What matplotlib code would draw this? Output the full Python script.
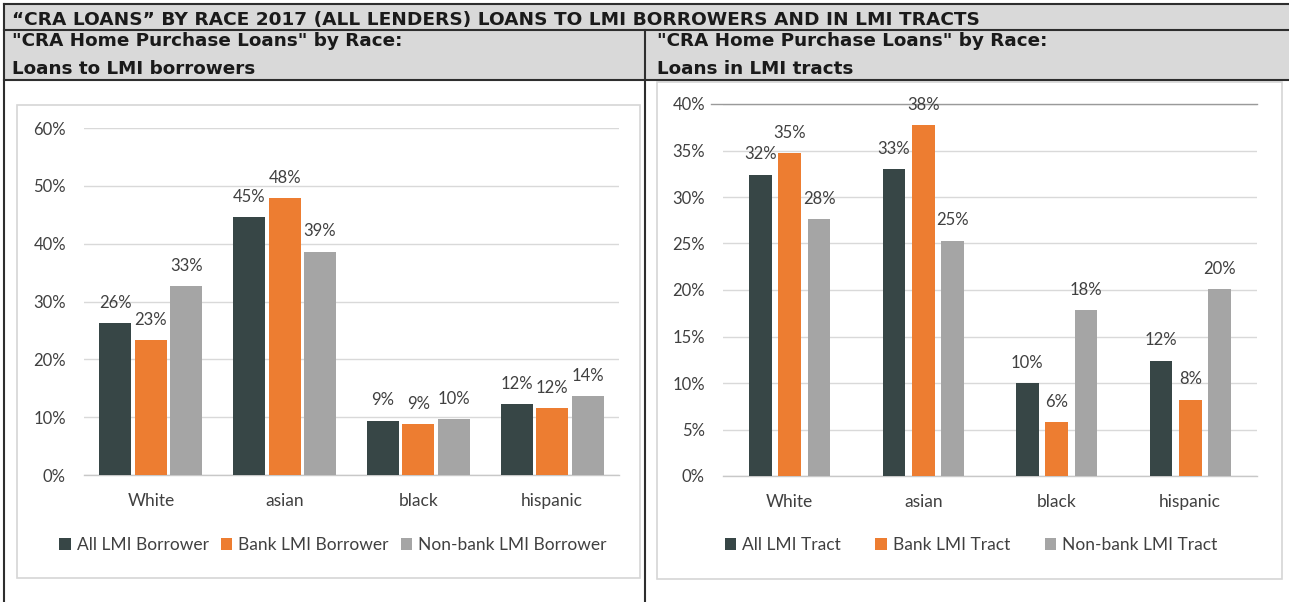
import matplotlib
matplotlib.use("Agg")
import matplotlib.pyplot as plt
from matplotlib.patches import Rectangle
from matplotlib.lines import Line2D
from matplotlib.ticker import FuncFormatter
import numpy as np

# ---------------- data ----------------
categories = ["White", "asian", "black", "hispanic"]

borrower_series = ["All LMI Borrower", "Bank LMI Borrower", "Non-bank LMI Borrower"]
borrower_all = [26.3, 44.6, 9.4, 12.3]
borrower_bank = [23.3, 47.9, 8.8, 11.6]
borrower_nonbank = [32.6, 38.6, 9.6, 13.6]

tract_series = ["All LMI Tract", "Bank LMI Tract", "Non-bank LMI Tract"]
tract_all = [32.4, 33.0, 10.0, 12.4]
tract_bank = [34.7, 37.7, 5.8, 8.2]
tract_nonbank = [27.6, 25.3, 17.8, 20.1]

left_ticks = [0, 10, 20, 30, 40, 50, 60]
right_ticks = [0, 5, 10, 15, 20, 25, 30, 35, 40]

main_title = "\u201cCRA LOANS\u201d BY RACE 2017 (ALL LENDERS) LOANS TO LMI BORROWERS AND IN LMI TRACTS"
left_title = ['"CRA Home Purchase Loans" by Race:', "Loans to LMI borrowers"]
right_title = ['"CRA Home Purchase Loans" by Race:', "Loans in LMI tracts"]

# ---------------- style ----------------
W, H = 1289, 602
DARK = "#374646"
ORANGE = "#ED7D31"
GRAY = "#A5A5A5"
TXT = "#404040"
GRID = "#D9D9D9"
BAND = "#D9D9D9"
BORDER = "#2E2E2E"
FONT = "Lato"

fig = plt.figure(figsize=(W / 100, H / 100), dpi=100)
fig.patch.set_facecolor("white")

# background axes in pixel coordinates
bg = fig.add_axes([0, 0, 1, 1], zorder=0)
bg.set_xlim(0, W)
bg.set_ylim(H, 0)
bg.axis("off")

# header bands
bg.add_patch(Rectangle((3.5, 4), W - 3.5, 76, facecolor=BAND, edgecolor="none"))
for y in (4, 29.5, 80):
    bg.add_line(Line2D([3.5, W], [y, y], color=BORDER, lw=1.5))
bg.add_line(Line2D([3.5, 3.5], [4, H], color=BORDER, lw=1.5))
bg.add_line(Line2D([644.5, 644.5], [29.5, H], color=BORDER, lw=1.5))

# inner chart boxes
bg.add_patch(Rectangle((17, 105), 623, 473, facecolor="white", edgecolor="#D6D6D6", lw=1.2))
bg.add_patch(Rectangle((657, 82), 625, 497, facecolor="white", edgecolor="#D6D6D6", lw=1.2))

renderer = fig.canvas.get_renderer()


def fit_size(text, target_w, size=14):
    t = bg.text(0, 0, text, fontsize=size, fontweight="bold", family="DejaVu Sans")
    w = t.get_window_extent(renderer).width
    t.remove()
    return size * target_w / w


s1 = fit_size(main_title, 963)
bg.text(12, 25, main_title, fontsize=s1, fontweight="bold", family="DejaVu Sans",
        color="#1a1a1a", va="baseline", ha="left")
s2 = fit_size(left_title[0], 393)
for (x0, lines) in ((12, left_title), (657, right_title)):
    bg.text(x0, 46, lines[0], fontsize=s2, fontweight="bold", family="DejaVu Sans",
            color="#1a1a1a", va="baseline", ha="left")
    bg.text(x0, 74, lines[1], fontsize=s2, fontweight="bold", family="DejaVu Sans",
            color="#1a1a1a", va="baseline", ha="left")


def px_rect(x0, x1, ytop, ybot):
    return [x0 / W, 1 - ybot / H, (x1 - x0) / W, (ybot - ytop) / H]


def draw_chart(rect, series_vals, series_names, ticks, width, pitch, legend_center, colspace):
    ax = fig.add_axes(rect, zorder=2)
    ax.patch.set_alpha(0)
    x = np.arange(len(categories))
    colors = [DARK, ORANGE, GRAY]
    handles = []
    for i, (vals, name, c) in enumerate(zip(series_vals, series_names, colors)):
        pos = x + (i - 1) * pitch
        b = ax.bar(pos, vals, width=width, color=c, label=name, zorder=3)
        handles.append(b)
        for px_, v in zip(pos, vals):
            ax.annotate(f"{v:.0f}%", (px_, v), xytext=(0, 11), textcoords="offset points",
                        ha="center", va="baseline", fontsize=12, family=FONT, color=TXT,
                        zorder=4)
    ax.set_xlim(-0.5, len(categories) - 0.5)
    ax.set_ylim(ticks[0], ticks[-1])
    ax.set_yticks(ticks)
    ax.yaxis.set_major_formatter(FuncFormatter(lambda v, p: f"{v:.0f}%"))
    ax.set_xticks(x)
    ax.set_xticklabels(categories)
    ax.grid(axis="y", color=GRID, lw=1.0, zorder=0)
    ax.set_axisbelow(True)
    for s in ("top", "right", "left"):
        ax.spines[s].set_visible(False)
    ax.spines["bottom"].set_color("#C8C8C8")
    ax.spines["bottom"].set_linewidth(1.0)
    ax.tick_params(axis="y", length=0, pad=13, labelsize=12, labelcolor=TXT)
    ax.tick_params(axis="x", length=0, pad=13, labelsize=12.5, labelcolor=TXT)
    for lab in ax.get_xticklabels() + ax.get_yticklabels():
        lab.set_family(FONT)
    ax.legend(handles, series_names, loc="center",
              bbox_to_anchor=(legend_center[0] / W, 1 - legend_center[1] / H),
              bbox_transform=fig.transFigure, ncol=3, frameon=False,
              handlelength=0.65, handleheight=0.65, handletextpad=0.35,
              columnspacing=colspace, prop={"family": FONT, "size": 12.5},
              labelcolor=TXT)
    return ax


axl = draw_chart(px_rect(84, 619, 128, 475),
                 [borrower_all, borrower_bank, borrower_nonbank], borrower_series,
                 left_ticks, 0.24, 0.265, (333, 545), 0.7)
axr = draw_chart(px_rect(723, 1257, 104, 476),
                 [tract_all, tract_bank, tract_nonbank], tract_series,
                 right_ticks, 0.17, 0.22, (971, 545), 2.0)

# darker top gridline on the right chart (slightly extended to the left)
axr.axhline(right_ticks[-1], xmin=-12 / 534, xmax=1.0, color="#9A9A9A", lw=1.0,
            zorder=1, clip_on=False)

fig.savefig("out.png", dpi=100)
